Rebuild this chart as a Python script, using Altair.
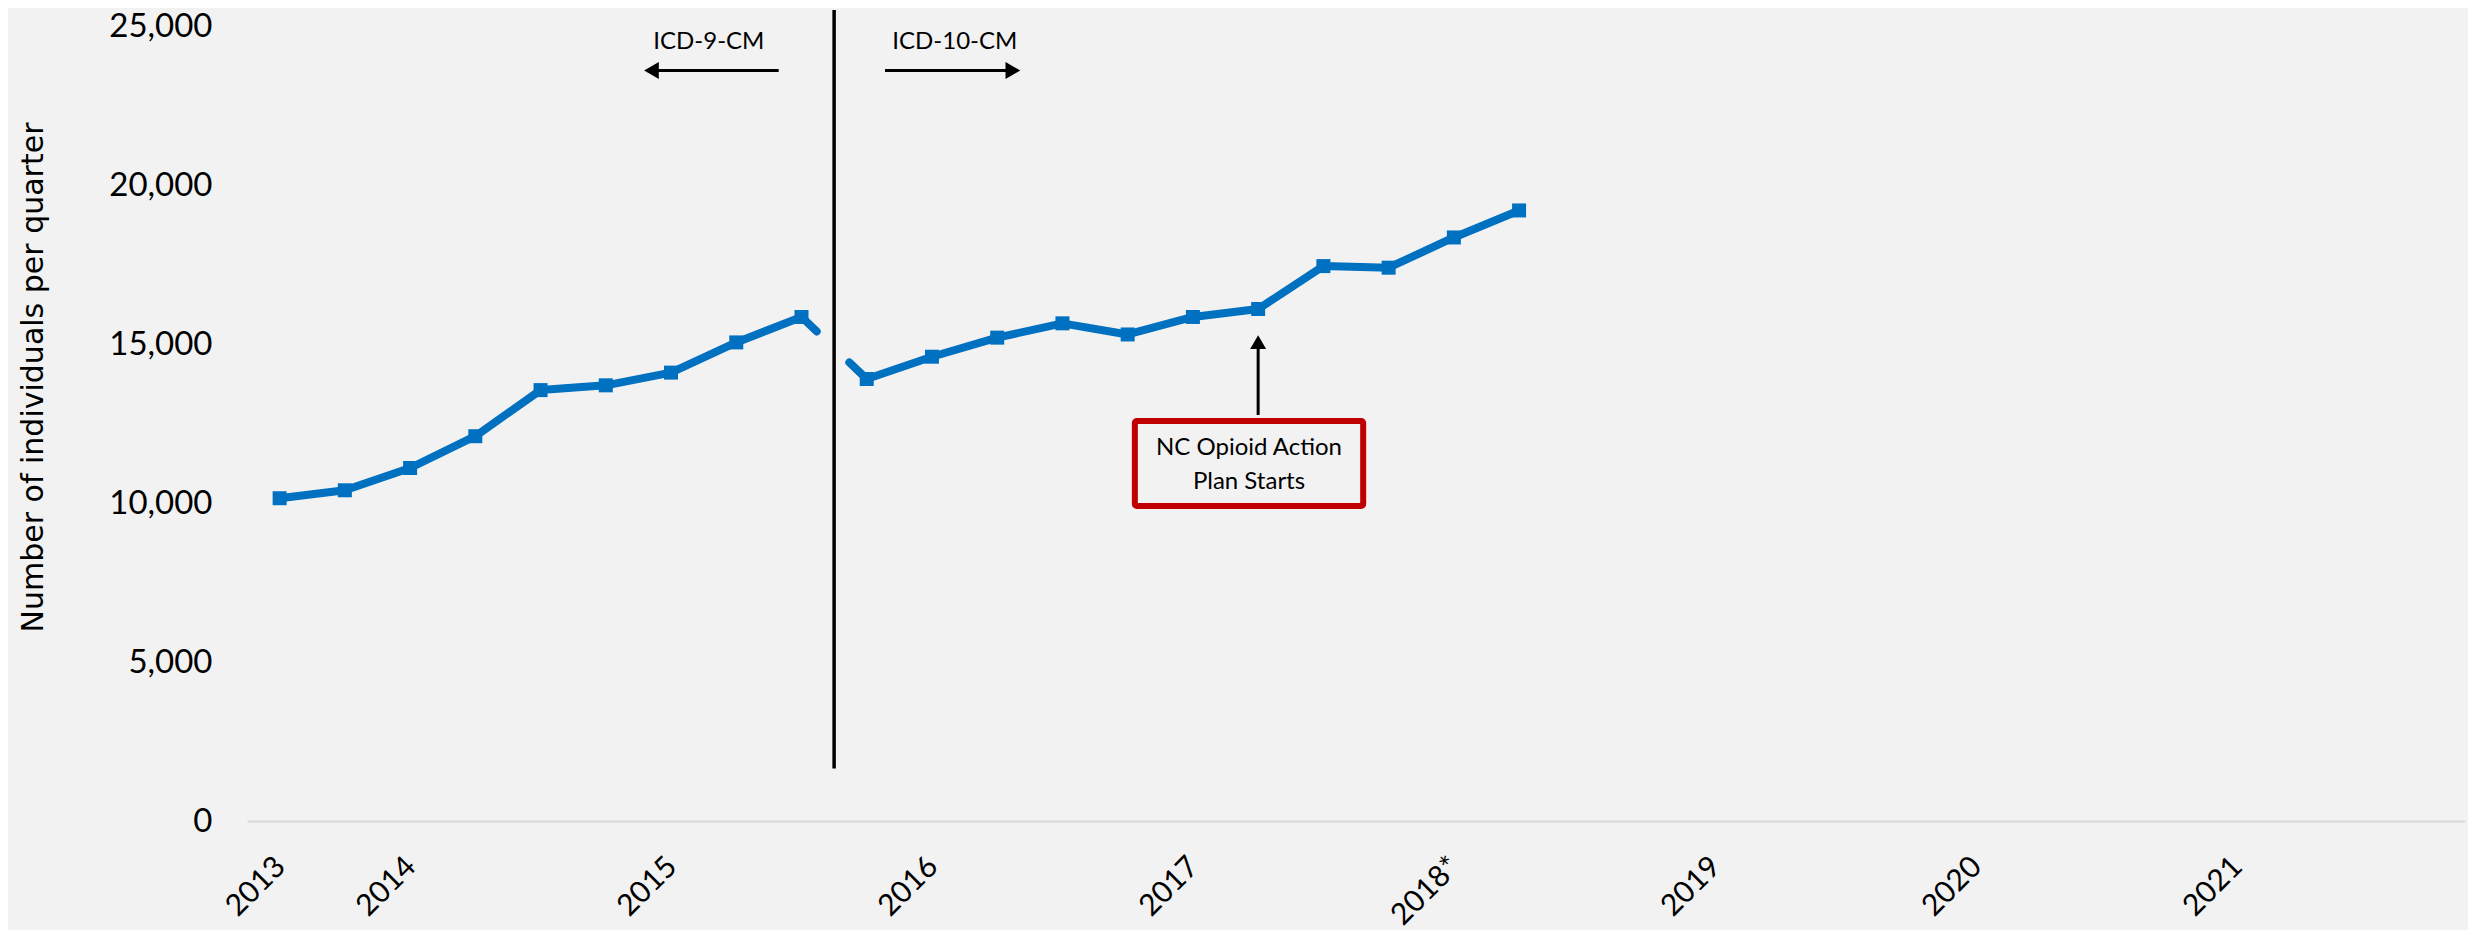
import altair as alt
import pandas as pd

# ---- data ----
quarter_index = list(range(20))
individuals = [10150, 10400, 11100, 12100, 13550, 13700, 14100, 15050, 15850,
               13900, 14600, 15200, 15650, 15300, 15850, 16100, 17450, 17400,
               18350, 19200]

tick_positions = [0, 2, 6, 10, 14, 18, 22, 26, 30]
tick_labels = ["2013", "2014", "2015", "2016", "2017", "2018*", "2019", "2020", "2021"]
y_ticks = [0, 5000, 10000, 15000, 20000, 25000]

# annotation texts
icd9_text = "ICD-9-CM"
icd10_text = "ICD-10-CM"
plan_text = ["NC Opioid Action", "Plan Starts"]

BG = "#F2F2F2"
BLUE = "#0070C0"
RED = "#C00000"
TICK_FONT = "Lato"

xs = alt.Scale(domain=[-0.5, 33.5], nice=False, zero=False)
ys = alt.Scale(domain=[0, 25000], nice=False, zero=True)

label_expr = " : ".join(
    f"datum.value == {p} ? '{t}'" for p, t in zip(tick_positions, tick_labels)
) + " : ''"

x_axis = alt.Axis(values=tick_positions, labelExpr=label_expr, labelAngle=-45,
                  labelAlign="right", labelBaseline="top", labelPadding=30,
                  labelOffset=-10, labelFont=TICK_FONT, labelFontSize=30,
                  labelColor="black", ticks=False, grid=False,
                  domainColor="#D9D9D9", domainWidth=2, title=None,
                  labelOverlap=False, labelBound=False, labelFlush=False)
y_axis = alt.Axis(values=y_ticks, labelExpr="format(datum.value, ',')",
                  labelFont=TICK_FONT, labelFontSize=33,
                  labelColor="black", labelPadding=35, ticks=False, grid=False,
                  domain=False, title="Number of individuals per quarter",
                  titleFont="DejaVu Sans", titleFontSize=30, titleFontWeight="normal",
                  titleColor="black", titleAngle=-90, titleX=-205, titleY=351,
                  titleAlign="center", titleBaseline="alphabetic")


def X(field):
    return alt.X(field, type="quantitative", scale=xs, axis=x_axis)


def Y(field):
    return alt.Y(field, type="quantitative", scale=ys, axis=y_axis)


df = pd.DataFrame({"q": quarter_index, "n": individuals})
base = alt.Chart(df)

line_a = base.transform_filter("datum.q <= 8").mark_line(
    color=BLUE, strokeWidth=8, strokeCap="round", strokeJoin="round"
).encode(x=X("q"), y=Y("n"))

line_b = base.transform_filter("datum.q >= 9").mark_line(
    color=BLUE, strokeWidth=8, strokeCap="round", strokeJoin="round"
).encode(x=X("q"), y=Y("n"))

bridge = base.transform_filter("datum.q >= 8 && datum.q <= 9").mark_line(
    color=BLUE, strokeWidth=8, strokeCap="round", strokeDash=[21, 45, 300]
).encode(x=X("q"), y=Y("n"))

points = base.mark_square(size=196, color=BLUE, opacity=1).encode(x=X("q"), y=Y("n"))

# vertical line at the coding change
vdf = pd.DataFrame({"q": [8.5], "n": [1650], "n2": [25500]})
vrule = alt.Chart(vdf).mark_rule(color="black", strokeWidth=3.5).encode(
    x=X("q"), y=Y("n"), y2="n2:Q")

# horizontal arrows
hdf = pd.DataFrame({"q": [7.65, 9.28], "q2": [5.75, 11.2], "n": [23600, 23600]})
harrows = alt.Chart(hdf).mark_rule(color="black", strokeWidth=3).encode(
    x=X("q"), x2="q2:Q", y=Y("n"))
heads_df = pd.DataFrame({"q": [5.70, 11.24], "n": [23600, 23600],
                         "shape": ["triangle-left", "triangle-right"]})
heads = alt.Chart(heads_df).mark_point(filled=True, size=289, color="black", opacity=1).encode(
    x=X("q"), y=Y("n"), shape=alt.Shape("shape:N", scale=None, legend=None))

tdf = pd.DataFrame({"q": [6.58, 10.35], "n": [24500, 24500], "t": [icd9_text, icd10_text]})
icd_text = alt.Chart(tdf).mark_text(font=TICK_FONT, fontSize=24, color="black",
                                    align="center", baseline="middle").encode(
    x=X("q"), y=Y("n"), text="t:N")

# up arrow to quarter index 15
udf = pd.DataFrame({"q": [15], "n": [12767], "n2": [14900]})
uline = alt.Chart(udf).mark_rule(color="black", strokeWidth=3).encode(
    x=X("q"), y=Y("n"), y2="n2:Q")
uhead = alt.Chart(pd.DataFrame({"q": [15], "n": [15060]})).mark_point(
    filled=True, size=256, color="black", opacity=1, shape="triangle-up").encode(
    x=X("q"), y=Y("n"))

# annotation box
bdf = pd.DataFrame({"q": [13.11], "q2": [16.61], "n": [9906], "n2": [12579]})
box = alt.Chart(bdf).mark_rect(fill=BG, stroke=RED, strokeWidth=6, cornerRadius=2).encode(
    x=X("q"), x2="q2:Q", y=Y("n"), y2="n2:Q")
btdf = pd.DataFrame({"q": [14.86, 14.86], "n": [11730, 10660], "t": plan_text})
box_text = alt.Chart(btdf).mark_text(font=TICK_FONT, fontSize=24, color="black",
                                     align="center", baseline="middle").encode(
    x=X("q"), y=Y("n"), text="t:N")

chart = alt.layer(
    line_a, line_b, bridge, points, vrule, harrows, heads, icd_text,
    uline, uhead, box, box_text
).properties(
    width=2218, height=795,
    padding={"left": 239, "top": 18, "right": 3, "bottom": 109},
    autosize=alt.AutoSizeParams(type="none"),
    background=BG,
).configure_view(stroke=None)

chart.save("out.html", embed_options={"renderer": "svg", "actions": False})
